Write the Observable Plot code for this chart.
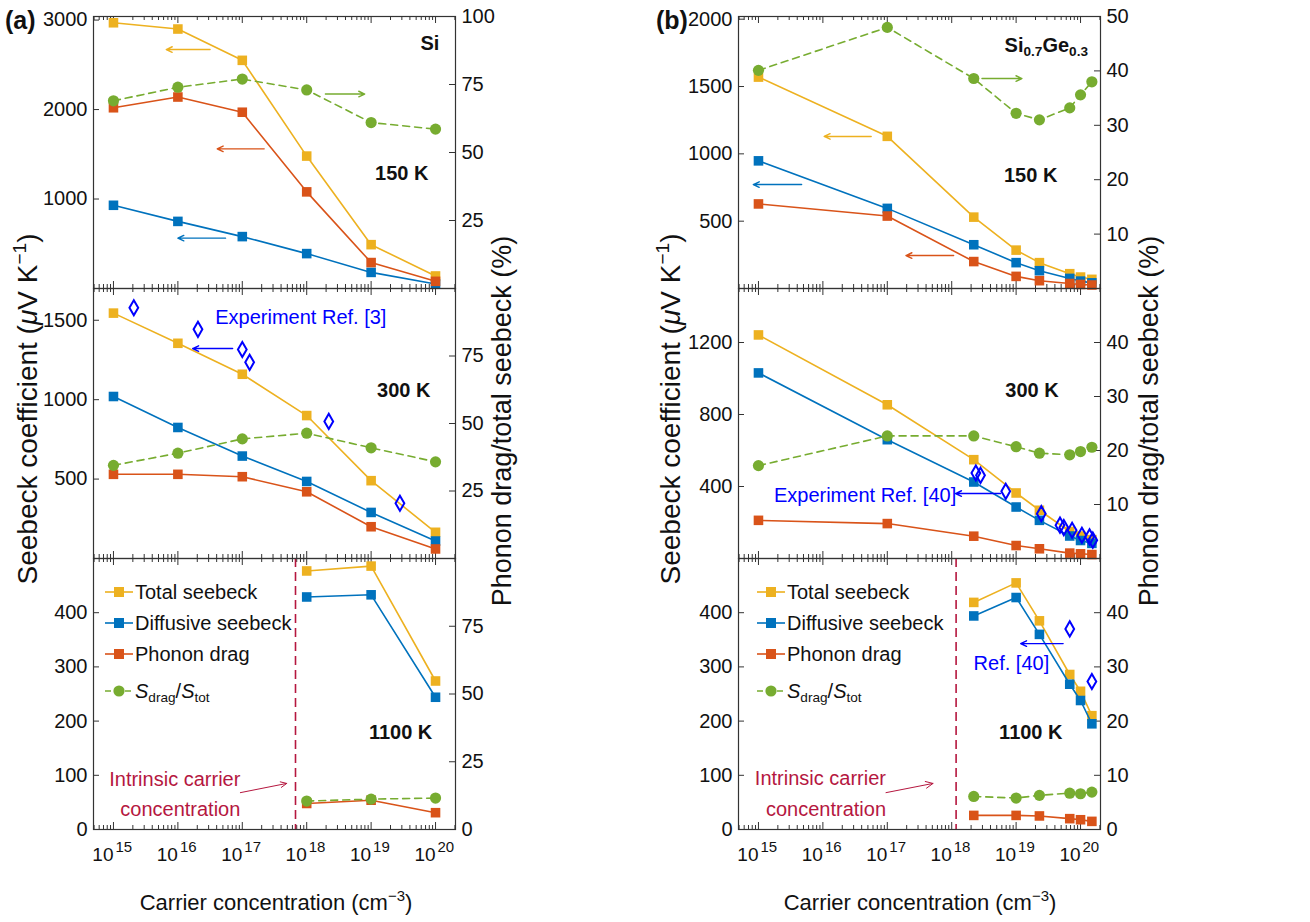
<!DOCTYPE html>
<html><head><meta charset="utf-8">
<script src="https://cdn.jsdelivr.net/npm/d3@7"></script>
<script src="https://cdn.jsdelivr.net/npm/@observablehq/plot@0.6"></script>
<style>
body{margin:0;background:#fff;}
#fig{position:relative;width:1310px;height:922px;background:#fff;font-family:"Liberation Sans",Arial,sans-serif;color:#111;overflow:hidden;}
.abs{position:absolute;white-space:nowrap;line-height:1;}
.rot{transform:translate(-50%,-50%) rotate(-90deg);}
sub{font-size:0.68em;vertical-align:-0.3em;line-height:0;}
sup{font-size:0.68em;vertical-align:0.6em;line-height:0;}
</style></head><body><div id="fig"></div>
<script>
// ---------------- data ----------------
const xSi = [1e15, 1e16, 1e17, 1e18, 1e19, 1e20];
const si150Total = [2970, 2900, 2550, 1480, 490, 140];
const si150Diff  = [930, 750, 580, 390, 180, 50];
const si150Drag  = [2020, 2140, 1970, 1080, 290, 80];
const si150Ratio = [69, 74, 77, 73, 61, 58.6];

const si300Total = [1545, 1355, 1160, 900, 490, 165];
const si300Diff  = [1020, 825, 645, 485, 290, 110];
const si300Drag  = [530, 530, 515, 420, 200, 60];
const si300Ratio = [34.5, 39, 44.3, 46.4, 41, 35.8];
const si300ExpX  = [2.07e15, 2.05e16, 1.0e17, 1.3e17, 2.2e18, 2.8e19];
const si300ExpY  = [1579, 1443, 1316, 1235, 863, 348];

const xSi1100 = [1e18, 1e19, 1e20];
const si1100Total = [477, 486, 274];
const si1100Diff  = [429, 433, 244];
const si1100Drag  = [48, 54, 31];
const si1100Ratio = [10.5, 11.2, 11.6];
const siIntrinsic = 6.7e17;

const xSiGe = [1e15, 1e17, 2.2e18, 1e19, 2.3e19, 6.8e19, 1e20, 1.5e20];
const sige150Total = [1570, 1130, 530, 285, 192, 110, 85, 68];
const sige150Diff  = [948, 595, 325, 192, 132, 75, 55, 42];
const sige150Drag  = [628, 538, 200, 90, 58, 37, 30, 26];
const sige150Ratio = [40.1, 48, 38.6, 32.2, 31, 33.2, 35.6, 38];

const sige300Total = [1242, 854, 549, 364, 268, 150, 125, 105];
const sige300Diff  = [1031, 660, 425, 286, 212, 125, 100, 84];
const sige300Drag  = [212, 194, 124, 72, 54, 30, 26, 22];
const sige300Ratio = [17.2, 22.7, 22.7, 20.7, 19.5, 19.2, 19.8, 20.6];
const sige300ExpX  = [2.37e18, 2.8e18, 6.9e18, 2.46e19, 4.8e19, 5.5e19, 7.4e19, 1.05e20, 1.38e20, 1.55e20];
const sige300ExpY  = [475, 462, 373, 249, 185, 172, 157, 129, 120, 102];

const xSiGe1100 = [2.2e18, 1e19, 2.3e19, 6.8e19, 1e20, 1.5e20];
const sige1100Total = [419, 455, 385, 286, 255, 210];
const sige1100Diff  = [394, 428, 360, 268, 238, 195];
const sige1100Drag  = [26, 26, 25, 20, 18, 15];
const sige1100Ratio = [6.1, 5.8, 6.3, 6.7, 6.6, 6.9];
const sige1100ExpX  = [6.8e19, 1.5e20];
const sige1100ExpY  = [370, 273];
const sigeIntrinsic = 1.17e18;

const xExponents = [15, 16, 17, 18, 19, 20];
const legendLabels = ["Total seebeck", "Diffusive seebeck", "Phonon drag", "<i>S</i><sub>drag</sub>/<i>S</i><sub>tot</sub>"];

// ---------------- style ----------------
const FONT = '"Liberation Sans",Arial,sans-serif';
const C = {total: "#EDB120", diff: "#0072BD", drag: "#D95319", ratio: "#77AC30", exp: "#0000FF", intr: "#B5173F"};
const AX = "#333";
const FW = 362;
const COLS = [{left: 93}, {left: 738}];
const ROWS = [{top: 16, h: 272}, {top: 288, h: 270}, {top: 558, h: 271}];
const xDomain = [10 ** 14.69, 10 ** 20.31];
const MAJOR = xExponents.map(e => 10 ** e);
const MINOR = [];
for (let e = 14; e <= 20; e++) for (let m = 2; m <= 9; m++) { const v = m * 10 ** e; if (v > xDomain[0] && v < xDomain[1]) MINOR.push(v); }

const fig = document.getElementById("fig");
const pts = (xs, ys, f = 1) => xs.map((x, i) => ({x, y: ys[i] * f}));

function buildPanel(p) {
  const col = COLS[p.col], row = ROWS[p.row];
  const bottom = p.row === 2;
  const mL = 80, mR = 80, mT = 12, mB = bottom ? 45 : 12;
  const h = row.h;
  const k = p.yMax / p.rMax;
  const marks = [];
  marks.push(Plot.ruleX(MAJOR, {x: d => d, insetTop: h - 7, stroke: AX}));
  marks.push(Plot.ruleX(MAJOR, {x: d => d, insetBottom: h - 7, stroke: AX}));
  marks.push(Plot.ruleX(MINOR, {x: d => d, insetTop: h - 4, stroke: AX}));
  marks.push(Plot.ruleX(MINOR, {x: d => d, insetBottom: h - 4, stroke: AX}));
  marks.push(Plot.ruleY(p.yTicks, {y: d => d, insetRight: FW - 6, stroke: AX}));
  marks.push(Plot.ruleY(p.rTicks, {y: d => d * k, insetLeft: FW - 6, stroke: AX}));
  marks.push(Plot.text(p.yTicks, {y: d => d, text: d => String(d), frameAnchor: "left", textAnchor: "end", dx: -6, fill: "#111"}));
  marks.push(Plot.text(p.rTicks, {y: d => d * k, text: d => String(d), frameAnchor: "right", textAnchor: "start", dx: 6, fill: "#111"}));
  if (bottom) {
    marks.push(Plot.text(xExponents, {x: e => 10 ** e, text: () => "10", frameAnchor: "bottom", dy: 31, textAnchor: "end", fontSize: 19, fill: "#111"}));
    marks.push(Plot.text(xExponents, {x: e => 10 ** e, text: e => String(e), frameAnchor: "bottom", dy: 22, dx: 2, textAnchor: "start", fontSize: 15, fill: "#111"}));
  }
  if (p.intrinsic) marks.push(Plot.ruleX([p.intrinsic], {x: d => d, stroke: C.intr, strokeWidth: 1.6, strokeDasharray: "9,5"}));
  for (const [key, ys] of [["total", p.total], ["diff", p.diff], ["drag", p.drag]]) {
    marks.push(Plot.line(pts(p.x, ys), {x: "x", y: "y", stroke: C[key], strokeWidth: 1.6}));
    marks.push(Plot.dot(pts(p.x, ys), {x: "x", y: "y", symbol: "square", r: 5.4, fill: C[key]}));
  }
  marks.push(Plot.line(pts(p.x, p.ratio, k), {x: "x", y: "y", stroke: C.ratio, strokeWidth: 1.6, strokeDasharray: "7,5"}));
  marks.push(Plot.dot(pts(p.x, p.ratio, k), {x: "x", y: "y", r: 5.6, fill: C.ratio}));
  if (p.expX) marks.push(Plot.dot(pts(p.expX, p.expY), {x: "x", y: "y", symbol: "diamond", r: 4.6, stroke: C.exp, strokeWidth: 2, fill: "none"}));
  for (const a of (p.arrows || [])) {
    marks.push(Plot.arrow([a], {x1: d => 10 ** d.x1, x2: d => 10 ** d.x2, y1: d => d.y1 * (d.r ? k : 1), y2: d => d.y2 * (d.r ? k : 1), stroke: a.c, strokeWidth: a.w || 1.4, headLength: a.hl || 7, headAngle: 50}));
  }
  for (const t of (p.texts || [])) {
    marks.push(Plot.text([t], {x: d => 10 ** d.x, y: d => d.y, text: d => d.t, textAnchor: t.anchor || "end", fill: t.c || "#111", fontWeight: t.bold ? "bold" : "normal", fontSize: t.size || 20}));
  }
  marks.push(Plot.frame({stroke: AX, strokeWidth: 1.2}));
  const svg = Plot.plot({
    width: FW + mL + mR, height: h + mT + mB,
    marginLeft: mL, marginRight: mR, marginTop: mT, marginBottom: mB,
    x: {type: "log", domain: xDomain, axis: null},
    y: {domain: [0, p.yMax], axis: null},
    style: {fontFamily: FONT, fontSize: "20px", background: "transparent", overflow: "visible", color: "#111"},
    marks
  });
  svg.style.position = "absolute";
  svg.style.left = (col.left - mL) + "px";
  svg.style.top = (row.top - mT) + "px";
  svg.style.maxWidth = "none";
  fig.appendChild(svg);
}

// (a) Si
buildPanel({col: 0, row: 0, yMax: 3040, rMax: 100, yTicks: [1000, 2000, 3000], rTicks: [25, 50, 75, 100],
  x: xSi, total: si150Total, diff: si150Diff, drag: si150Drag, ratio: si150Ratio,
  arrows: [{x1: 16.5, x2: 15.82, y1: 2671, y2: 2671, c: C.total}, {x1: 17.34, x2: 16.61, y1: 1561, y2: 1561, c: C.drag},
           {x1: 16.74, x2: 16.0, y1: 563, y2: 563, c: C.diff}, {x1: 18.29, x2: 18.9, y1: 71.5, y2: 71.5, r: true, c: C.ratio}],
  texts: [{x: 20.06, y: 2738, t: "Si", bold: true}, {x: 19.89, y: 1285, t: "150 K", bold: true}]});
buildPanel({col: 0, row: 1, yMax: 1700, rMax: 100, yTicks: [500, 1000, 1500], rTicks: [25, 50, 75],
  x: xSi, total: si300Total, diff: si300Diff, drag: si300Drag, ratio: si300Ratio, expX: si300ExpX, expY: si300ExpY,
  arrows: [{x1: 16.85, x2: 16.23, y1: 1322, y2: 1322, c: C.exp}],
  texts: [{x: 19.92, y: 1058, t: "300 K", bold: true}, {x: 16.58, y: 1517, t: "Experiment Ref. [3]", anchor: "start", c: C.exp}]});
buildPanel({col: 0, row: 2, yMax: 500, rMax: 100, yTicks: [0, 100, 200, 300, 400], rTicks: [0, 25, 50, 75],
  x: xSi1100, total: si1100Total, diff: si1100Diff, drag: si1100Drag, ratio: si1100Ratio, intrinsic: siIntrinsic,
  arrows: [{x1: 16.97, x2: 17.69, y1: 68, y2: 85, c: C.intr, w: 1, hl: 10}],
  texts: [{x: 19.95, y: 179, t: "1100 K", bold: true}, {x: 16.97, y: 92, t: "Intrinsic carrier", c: C.intr}, {x: 16.97, y: 37, t: "concentration", c: C.intr}]});

// (b) SiGe
buildPanel({col: 1, row: 0, yMax: 2020, rMax: 50, yTicks: [500, 1000, 1500, 2000], rTicks: [10, 20, 30, 40, 50],
  x: xSiGe, total: sige150Total, diff: sige150Diff, drag: sige150Drag, ratio: sige150Ratio,
  arrows: [{x1: 16.75, x2: 16.02, y1: 1129, y2: 1129, c: C.total}, {x1: 18.47, x2: 19.09, y1: 38.6, y2: 38.6, r: true, c: C.ratio},
           {x1: 15.67, x2: 14.92, y1: 772, y2: 772, c: C.diff}, {x1: 18.03, x2: 17.29, y1: 245, y2: 245, c: C.drag}],
  texts: [{x: 19.64, y: 839, t: "150 K", bold: true}]});
buildPanel({col: 1, row: 1, yMax: 1500, rMax: 50, yTicks: [400, 800, 1200], rTicks: [10, 20, 30, 40],
  x: xSiGe, total: sige300Total, diff: sige300Diff, drag: sige300Drag, ratio: sige300Ratio, expX: sige300ExpX, expY: sige300ExpY,
  arrows: [{x1: 18.76, x2: 18.06, y1: 361, y2: 361, c: C.exp}],
  texts: [{x: 19.66, y: 933, t: "300 K", bold: true}, {x: 15.24, y: 350, t: "Experiment Ref. [40]", anchor: "start", c: C.exp}]});
buildPanel({col: 1, row: 2, yMax: 500, rMax: 50, yTicks: [0, 100, 200, 300, 400], rTicks: [0, 10, 20, 30, 40],
  x: xSiGe1100, total: sige1100Total, diff: sige1100Diff, drag: sige1100Drag, ratio: sige1100Ratio, expX: sige1100ExpX, expY: sige1100ExpY, intrinsic: sigeIntrinsic,
  arrows: [{x1: 19.73, x2: 19.07, y1: 343, y2: 343, c: C.exp}, {x1: 16.98, x2: 17.71, y1: 68, y2: 85, c: C.intr, w: 1, hl: 12}],
  texts: [{x: 19.72, y: 179, t: "1100 K", bold: true}, {x: 18.34, y: 306, t: "Ref. [40]", anchor: "start", c: C.exp},
          {x: 16.98, y: 94, t: "Intrinsic carrier", c: C.intr}, {x: 16.98, y: 37, t: "concentration", c: C.intr}]});

// ---------------- HTML texts ----------------
function addText(html, x, y, css) {
  const d = document.createElement("div");
  d.className = "abs";
  d.innerHTML = html;
  d.style.left = x + "px"; d.style.top = y + "px";
  Object.assign(d.style, css || {});
  fig.appendChild(d);
  return d;
}
addText("(a)", 5, 8, {fontWeight: "bold", fontSize: "25px"});
addText("(b)", 656, 8, {fontWeight: "bold", fontSize: "25px"});
addText("Si<sub>0.7</sub>Ge<sub>0.3</sub>", 1088, 45, {fontWeight: "bold", fontSize: "20px", transform: "translate(-100%,-50%)"});
for (const cx of [28, 671]) addText("Seebeck coefficient (<i>μ</i>V K<sup>−1</sup>)", cx, 409, {fontSize: "28px"}).classList.add("rot");
for (const cx of [502, 1149]) addText("Phonon drag/total seebeck (%)", cx, 421, {fontSize: "27px"}).classList.add("rot");
for (const cx of [276, 920]) addText("Carrier concentration (cm<sup>−3</sup>)", cx, 903, {fontSize: "22px", transform: "translate(-50%,-50%)"});

const legendKeys = ["total", "diff", "drag", "ratio"];
const legendY = [592, 623, 654, 691];
for (const lx of [105, 757]) {
  legendKeys.forEach((key, i) => {
    const marker = key === "ratio"
      ? `<line x1="0" y1="7" x2="28" y2="7" stroke="${C[key]}" stroke-width="1.6" stroke-dasharray="6,4"/><circle cx="14" cy="7" r="5.6" fill="${C[key]}"/>`
      : `<line x1="0" y1="7" x2="28" y2="7" stroke="${C[key]}" stroke-width="1.6"/><rect x="9" y="2" width="10" height="10" fill="${C[key]}"/>`;
    addText(`<svg width="28" height="14" style="vertical-align:middle">${marker}</svg><span style="margin-left:2px;vertical-align:middle">${legendLabels[i]}</span>`,
      lx, legendY[i], {fontSize: "20px", transform: "translateY(-50%)", display: "flex", alignItems: "center"});
  });
}
</script></body></html>
